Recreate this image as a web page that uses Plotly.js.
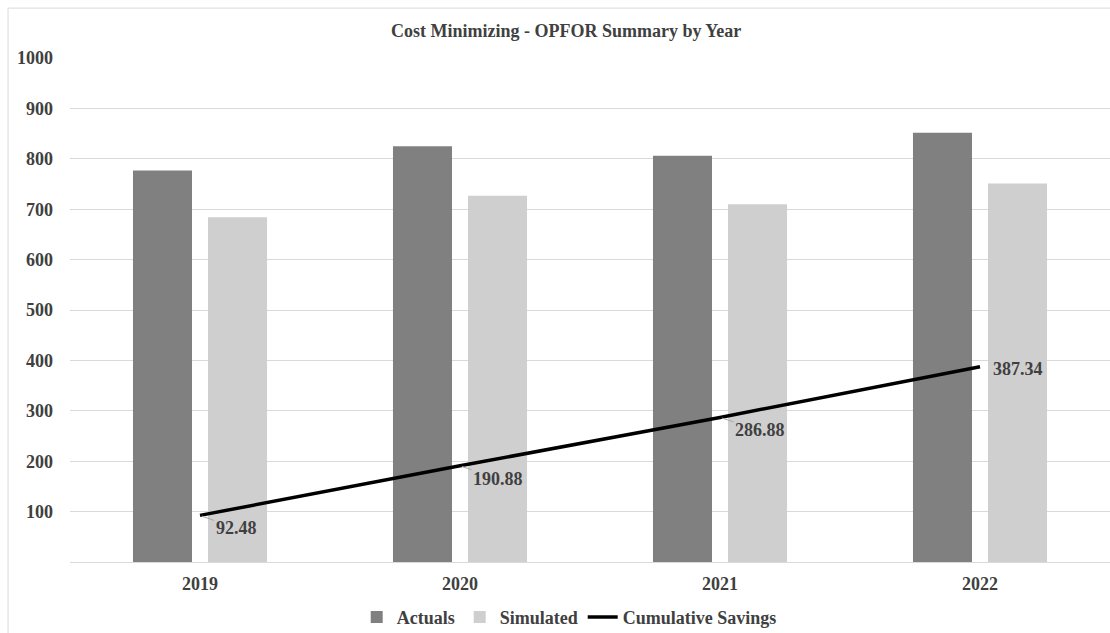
<!DOCTYPE html>
<html>
<head>
<meta charset="utf-8">
<script src="https://cdn.plot.ly/plotly-3.0.1.min.js"></script>
<style>
  html, body { margin: 0; padding: 0; background: #ffffff; }
  #chart { width: 1110px; height: 633px; }
</style>
</head>
<body>
<div id="chart"></div>
<script>
// Yearly OPFOR costs: actual spend vs. simulated cost-minimizing spend
const years = ['2019', '2020', '2021', '2022'];
const actuals = [776.6, 825.1, 805.9, 851.6];
const simulated = [684.1, 726.7, 709.9, 751.1];
const cumulativeSavings = [92.48, 190.88, 286.88, 387.34];
const yTicks = [100, 200, 300, 400, 500, 600, 700, 800, 900, 1000];

const FONT = 'Liberation Serif, Times New Roman, serif';
const TEXT = '#404040';
const GRID = '#d9d9d9';
const FS = 18;

const traces = [
  {
    type: 'bar', name: 'Actuals', x: years, y: actuals,
    marker: { color: '#808080' }, hoverinfo: 'x+y'
  },
  {
    type: 'bar', name: 'Simulated', x: years, y: simulated,
    marker: { color: '#d0cfd0' }, hoverinfo: 'x+y'
  },
  {
    type: 'scatter', mode: 'lines', name: 'Cumulative Savings',
    x: years, y: cumulativeSavings,
    line: { color: '#000000', width: 3.5 }
  }
];

// Value callouts for the savings line; the last one sits to the right without a leader.
// On a category axis annotations are placed by category index.
const callout = [
  { ax: 36, ay: 13, arrow: true },
  { ax: 38, ay: 13, arrow: true },
  { ax: 40, ay: 13, arrow: true },
  { ax: 38, ay: 2, arrow: false }
];
const annotations = cumulativeSavings.map((v, i) => {
  const c = callout[i];
  const a = {
    x: i, y: v, xref: 'x', yref: 'y',
    text: v.toFixed(2),
    font: { family: FONT, size: FS, color: TEXT, weight: 'bold' }
  };
  if (c.arrow) {
    Object.assign(a, {
      showarrow: true, ax: c.ax, ay: c.ay, arrowhead: 0,
      arrowwidth: 1, arrowcolor: '#a6a6a6', standoff: 2
    });
  } else {
    Object.assign(a, { showarrow: false, xshift: c.ax, yshift: -c.ay });
  }
  return a;
});

const layout = {
  width: 1110, height: 633,
  margin: { l: 70, r: 0, t: 58, b: 71, autoexpand: false },
  paper_bgcolor: '#ffffff', plot_bgcolor: '#ffffff',
  font: { family: FONT, color: TEXT, size: FS, weight: 'bold' },
  title: {
    text: 'Cost Minimizing - OPFOR Summary by Year',
    font: { family: FONT, size: FS, color: TEXT, weight: 'bold' },
    xref: 'container', x: 0.51, xanchor: 'center',
    yref: 'container', y: 0.951, yanchor: 'middle'
  },
  barmode: 'group', bargap: 0.423, bargroupgap: 0.213,
  xaxis: {
    type: 'category', showgrid: false, showline: true, linecolor: GRID, linewidth: 1,
    ticks: '', ticklabelstandoff: 5, automargin: false,
    tickfont: { family: FONT, size: FS, color: TEXT, weight: 'bold' },
    fixedrange: true
  },
  yaxis: {
    range: [0, 1000], tickvals: yTicks, showgrid: true, gridcolor: GRID, gridwidth: 1,
    zeroline: false, showline: false, ticks: '', ticklabelstandoff: 16, automargin: false,
    tickfont: { family: FONT, size: FS, color: TEXT, weight: 'bold' },
    fixedrange: true
  },
  showlegend: true,
  legend: {
    orientation: 'h', x: 0.48, xanchor: 'center', y: -0.073, yanchor: 'top',
    font: { family: FONT, size: FS, color: TEXT, weight: 'bold' },
    itemwidth: 30, traceorder: 'normal'
  },
  annotations: annotations,
  shapes: [{
    type: 'rect', xref: 'paper', yref: 'paper',
    x0: -0.0596, x1: 1.02, y0: -0.2, y1: 1.099,
    line: { color: '#d9d9d9', width: 1 }, fillcolor: 'rgba(0,0,0,0)', layer: 'below'
  }]
};

Plotly.newPlot('chart', traces, layout, { displayModeBar: false, staticPlot: true });
</script>
</body>
</html>
